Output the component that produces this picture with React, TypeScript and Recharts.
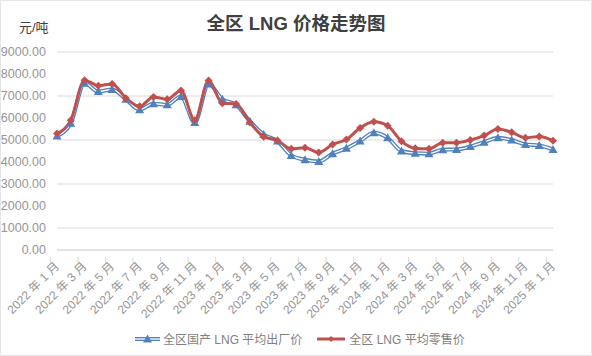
import React from 'react';
import { LineChart, Line, XAxis, YAxis, CartesianGrid } from 'recharts';

// monthly data, Jan 2022 .. Jan 2025
const months = [
  '2022 年 1 月', '2022 年 2 月', '2022 年 3 月', '2022 年 4 月', '2022 年 5 月', '2022 年 6 月',
  '2022 年 7 月', '2022 年 8 月', '2022 年 9 月', '2022 年 10 月', '2022 年 11 月', '2022 年 12 月',
  '2023 年 1 月', '2023 年 2 月', '2023 年 3 月', '2023 年 4 月', '2023 年 5 月', '2023 年 6 月',
  '2023 年 7 月', '2023 年 8 月', '2023 年 9 月', '2023 年 10 月', '2023 年 11 月', '2023 年 12 月',
  '2024 年 1 月', '2024 年 2 月', '2024 年 3 月', '2024 年 4 月', '2024 年 5 月', '2024 年 6 月',
  '2024 年 7 月', '2024 年 8 月', '2024 年 9 月', '2024 年 10 月', '2024 年 11 月', '2024 年 12 月',
  '2025 年 1 月',
];

const factoryPrice = [
  5180, 5760, 7580, 7200, 7300, 6850, 6380, 6650, 6600, 6980, 5800, 7550,
  6850, 6600, 5850, 5250, 4950, 4300, 4100, 4020, 4380, 4620, 4950, 5330,
  5100, 4500, 4400, 4380, 4560, 4570, 4700, 4900, 5100, 5000, 4800, 4750,
  4570,
];

const retailPrice = [
  5300, 5900, 7720, 7470, 7550, 6900, 6530, 6960, 6850, 7250, 5900, 7700,
  6670, 6640, 5800, 5150, 4980, 4600, 4650, 4430, 4800, 5020, 5550, 5830,
  5650, 4940, 4630, 4600, 4880, 4880, 5000, 5200, 5500, 5350, 5100, 5160,
  4970,
];

const yTicks = [0, 1000, 2000, 3000, 4000, 5000, 6000, 7000, 8000, 9000];

const data = months.map((m, i) => ({ month: m, factory: factoryPrice[i], retail: retailPrice[i] }));

const BLUE = '#4f81bd';
const RED = '#c0504d';
const FONT = '"Liberation Sans", "Noto Sans CJK SC", sans-serif';
const BAND = 496 / 37;

const Triangle = (props: any) => {
  const { cx, cy, index } = props;
  if (cx == null || cy == null) return <g key={index} />;
  return <path key={index} d={`M${cx},${cy - 4.5} L${cx + 4.5},${cy + 3.5} L${cx - 4.5},${cy + 3.5} Z`} fill={BLUE} />;
};

const Diamond = (props: any) => {
  const { cx, cy, index } = props;
  if (cx == null || cy == null) return <g key={index} />;
  return <path key={index} d={`M${cx},${cy - 4} L${cx + 4},${cy} L${cx},${cy + 4} L${cx - 4},${cy} Z`} fill={RED} />;
};

const MonthTick = (props: any) => {
  const { x, y, payload } = props;
  return (
    <g>
      <line x1={x - BAND / 2} y1={y - 1} x2={x - BAND / 2} y2={y + 4} stroke="#d9d9d9" />
      <text
        x={x + 3}
        y={y + 9}
        transform={`rotate(-45 ${x + 3} ${y + 9})`}
        textAnchor="end"
        fontSize={12}
        fill="#969696"
        fontFamily={FONT}
      >
        {payload.value}
      </text>
    </g>
  );
};

export default function App() {
  return (
    <div style={{ position: 'absolute', left: 0, top: 0, width: 592, height: 356, background: '#fff', fontFamily: FONT }}>
      <div style={{ position: 'absolute', left: 0, top: 0, width: 590, height: 354, border: '1px solid #e6e6e6' }} />
      <div style={{ position: 'absolute', left: 0, top: 9, width: 592, textAlign: 'center', fontSize: 18.5, fontWeight: 'bold', color: '#404040' }}>
        全区 LNG 价格走势图
      </div>
      <div style={{ position: 'absolute', left: 19, top: 17, fontSize: 13, color: '#404040' }}>元/吨</div>
      <LineChart width={592} height={356} data={data} margin={{ top: 52, right: 39, bottom: 0, left: 0 }}>
        <CartesianGrid vertical={false} stroke="#d9d9d9" />
        <XAxis
          dataKey="month"
          interval={1}
          height={106}
          axisLine={{ stroke: '#d9d9d9' }}
          tickLine={false}
          tick={<MonthTick />}
        />
        <YAxis
          domain={[0, 9000]}
          ticks={yTicks}
          width={57}
          axisLine={false}
          tickLine={false}
          tickMargin={5}
          tickFormatter={(v: number) => v.toFixed(2)}
          tick={{ fontSize: 12.5, fill: '#969696', fontFamily: FONT }}
        />
        <Line type="monotone" dataKey="factory" stroke={BLUE} strokeWidth={4} dot={false} isAnimationActive={false} />
        <Line type="monotone" dataKey="factory" stroke="#fff" strokeWidth={1.3} dot={Triangle} isAnimationActive={false} />
        <Line type="monotone" dataKey="retail" stroke={RED} strokeWidth={3} dot={Diamond} isAnimationActive={false} />
      </LineChart>
      <div style={{ position: 'absolute', left: 134, top: 330, display: 'flex', alignItems: 'center', fontSize: 12, color: '#7f7f7f' }}>
        <svg width={27} height={14}>
          <line x1={1} y1={7} x2={26} y2={7} stroke={BLUE} strokeWidth={4} />
          <line x1={1} y1={7} x2={26} y2={7} stroke="#fff" strokeWidth={1.3} />
          <path d="M13.5,2.5 L18,10.5 L9,10.5 Z" fill={BLUE} />
        </svg>
        <span style={{ marginLeft: 2 }}>全区国产 LNG 平均出厂价</span>
        <svg width={30} height={14} style={{ marginLeft: 14 }}>
          <line x1={1} y1={7} x2={29} y2={7} stroke={RED} strokeWidth={3} />
          <path d="M15,4 L18,7 L15,10 L12,7 Z" fill={RED} />
        </svg>
        <span style={{ marginLeft: 3 }}>全区 LNG 平均零售价</span>
      </div>
    </div>
  );
}
